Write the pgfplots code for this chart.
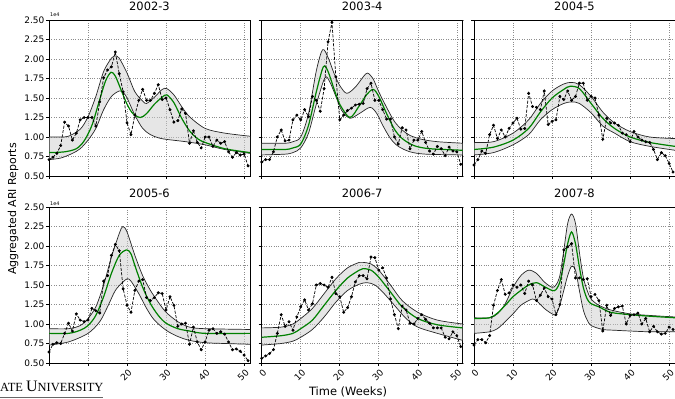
\documentclass[border=0pt]{standalone}
\usepackage{fontspec}
\setmainfont{DejaVu Sans}
\newfontfamily\logofont{Liberation Serif}
\usepackage{pgfplots}
\pgfplotsset{compat=1.18}
\usepgfplotslibrary{fillbetween}
\definecolor{mgreen}{RGB}{0,128,0}
\definecolor{bandfill}{RGB}{205,205,205}
\pgfplotsset{
  panel/.style={
    scale only axis, width=201bp, height=156bp, anchor=south west,
    xmin=0, xmax=51.5, ymin=0.5, ymax=2.5,
    xtick={0,10,20,30,40,50},
    ytick={0.5,0.75,1,1.25,1.5,1.75,2,2.25,2.5},
    yticklabels={}, xticklabels={},
    grid=major,
    grid style={dotted, line width=0.6bp, black!45},
    tick align=outside, xtick pos=bottom, ytick pos=left,
    major tick length=3bp,
    every tick/.style={black, line width=0.6bp},
    axis line style={black, line width=0.8bp},
    tick label style={font=\fontsize{9}{9}\selectfont},
    title style={font=\fontsize{11.5}{11.5}\selectfont, at={(0.5,1)}, anchor=base, yshift=3.5bp},
  },
  ylab/.style={yticklabels={0.50,0.75,1.00,1.25,1.50,1.75,2.00,2.25,2.50}, yticklabel style={inner sep=1.5bp}},
  xlab/.style={xticklabel style={rotate=45, anchor=north east, inner sep=1bp, yshift=-1bp}},
  bound/.style={black!85, line width=0.7bp, smooth, tension=0.5, mark=none},
  band/.style={bandfill, opacity=0.5},
  fit/.style={mgreen, line width=1.2bp, smooth, tension=0.5, mark=none},
  obs/.style={black, line width=0.7bp, dash pattern=on 3bp off 1.5bp, mark=*, mark size=1.1bp, mark options={solid}},
}
\begin{document}
\begin{tikzpicture}

% ---------------- 2002-3
\begin{axis}[panel, ylab, at={(49bp,223bp)}, title={2002-3}]
\addplot[bound, name path=u1] coordinates {(0,1.00)(3,1.00)(5,1.01)(8,1.10)(10,1.26)(12,1.52)(14,1.84)(16,2.01)(17,2.04)(18,2.01)(20,1.82)(22,1.58)(24,1.46)(25,1.43)(27,1.51)(29,1.61)(30.2,1.62)(32,1.54)(34,1.39)(36,1.26)(40,1.11)(45,1.05)(51.5,1.01)};
\addplot[bound, name path=l1] coordinates {(0,0.71)(3,0.73)(6,0.79)(8,0.85)(10,0.96)(12,1.11)(14,1.35)(16,1.52)(18,1.59)(19,1.57)(20,1.50)(22,1.28)(24,1.11)(26,1.03)(28,0.99)(30,0.97)(35,0.94)(40,0.90)(45,0.84)(51.5,0.79)};
\addplot[band] fill between[of=u1 and l1];
\addplot[fit] coordinates {(0,0.80)(4,0.81)(7,0.85)(9,0.95)(11,1.15)(13,1.48)(14.5,1.72)(15.9,1.83)(17,1.78)(18.5,1.60)(20,1.42)(21.5,1.30)(23.4,1.25)(25,1.30)(27,1.42)(29,1.51)(30.2,1.54)(32,1.44)(34,1.24)(36,1.08)(38,0.98)(40,0.93)(45,0.85)(51.5,0.80)};
\addplot[obs] coordinates {(0,0.71)(1,0.74)(2,0.79)(3,0.89)(4,1.19)(5,1.14)(6,0.96)(7,1.05)(8,1.22)(9,1.25)(10,1.25)(11,1.25)(12,1.14)(13,1.45)(14,1.76)(15,1.86)(16,1.90)(17,2.09)(18,1.81)(19,1.58)(20,1.18)(21,1.03)(22,1.28)(23,1.47)(24,1.61)(25,1.47)(26,1.47)(27,1.56)(28,1.67)(29,1.48)(30,1.50)(31,1.35)(32,1.19)(33,1.21)(34,1.36)(35,1.30)(36,0.92)(37,1.08)(38,0.93)(39,0.86)(40,1.00)(41,1.00)(42,0.88)(43,0.96)(44,0.92)(45,0.94)(46,0.81)(47,0.74)(48,0.80)(49,0.77)(50,0.78)(51,0.63)};
\end{axis}

% ---------------- 2003-4
\begin{axis}[panel, at={(261.7bp,223bp)}, title={2003-4}]
\addplot[bound, name path=u2] coordinates {(0,0.92)(6,0.92)(8,0.94)(10,1.00)(12,1.30)(14,1.85)(15.6,2.12)(17,2.02)(18.5,1.82)(20,1.66)(21.8,1.56)(24,1.64)(26,1.77)(27.1,1.82)(28.5,1.75)(30,1.58)(32,1.38)(34,1.20)(36,1.09)(38,1.02)(41,0.97)(45,0.94)(51.5,0.92)};
\addplot[bound, name path=l2] coordinates {(0,0.77)(6,0.78)(8,0.80)(10,0.86)(12,1.05)(14,1.42)(16.2,1.76)(17.5,1.70)(19,1.52)(20.5,1.34)(22.6,1.24)(25,1.30)(27.8,1.38)(29.5,1.30)(31,1.15)(33,0.98)(35,0.88)(38,0.81)(42,0.78)(51.5,0.77)};
\addplot[band] fill between[of=u2 and l2];
\addplot[fit] coordinates {(0,0.84)(6,0.84)(8,0.86)(10,0.91)(12,1.15)(14,1.58)(15.8,1.90)(17,1.84)(18.5,1.62)(20,1.42)(22.6,1.25)(25,1.40)(27,1.55)(28.6,1.61)(30,1.52)(32,1.30)(34,1.10)(36,0.98)(39,0.89)(43,0.85)(51.5,0.83)};
\addplot[obs] coordinates {(0,0.68)(1,0.71)(2,0.71)(3,0.81)(4,1.00)(5,1.09)(6,0.95)(7,0.96)(8,1.22)(9,1.28)(10,1.22)(11,1.35)(12,1.26)(13,1.52)(14,1.47)(15,1.33)(16,1.62)(17,2.22)(18,2.47)(19,1.77)(20,1.22)(21,1.28)(22,1.34)(23,1.37)(24,1.41)(25,1.42)(26,1.43)(27,1.62)(28,1.69)(29,1.47)(30,1.47)(31,1.35)(32,1.23)(33,1.23)(34,1.00)(35,0.91)(36,1.12)(37,1.09)(38,0.85)(39,0.96)(40,0.96)(41,1.07)(42,0.93)(43,0.82)(44,0.78)(45,0.88)(46,0.85)(47,0.76)(48,0.87)(49,0.82)(50,0.81)(51,0.65)};
\end{axis}

% ---------------- 2004-5
\begin{axis}[panel, at={(474bp,223bp)}, title={2004-5}]
\addplot[bound, name path=u3] coordinates {(0,0.93)(5,0.94)(10,1.05)(14,1.22)(17,1.43)(20,1.59)(23,1.68)(25,1.70)(27,1.67)(30,1.52)(33,1.32)(36,1.18)(40,1.07)(45,1.00)(51.5,0.98)};
\addplot[bound, name path=l3] coordinates {(0,0.77)(5,0.80)(10,0.90)(14,1.03)(17,1.22)(20,1.35)(23,1.43)(25,1.45)(27,1.43)(30,1.31)(33,1.14)(36,1.05)(40,0.94)(45,0.88)(51.5,0.83)};
\addplot[band] fill between[of=u3 and l3];
\addplot[fit] coordinates {(0,0.84)(5,0.87)(10,0.96)(14,1.11)(17,1.32)(20,1.50)(23,1.61)(24.6,1.65)(27,1.62)(30,1.43)(33,1.24)(36,1.11)(40,1.00)(45,0.93)(51.5,0.88)};
\addplot[obs] coordinates {(0,0.64)(1,0.71)(2,0.82)(3,0.79)(4,1.03)(5,1.15)(6,0.98)(7,1.09)(8,1.00)(9,1.11)(10,1.18)(11,1.24)(12,1.10)(13,1.11)(14,1.56)(15,1.39)(16,1.38)(17,1.35)(18,1.59)(19,1.16)(20,1.20)(21,1.22)(22,1.52)(23,1.48)(24,1.59)(25,1.47)(26,1.52)(27,1.69)(28,1.69)(29,1.47)(30,1.52)(31,1.50)(32,1.28)(33,0.97)(34,1.24)(35,1.18)(36,1.18)(37,1.15)(38,1.05)(39,1.03)(40,0.94)(41,1.07)(42,1.00)(43,0.96)(44,0.94)(45,0.93)(46,0.84)(47,0.71)(48,0.80)(49,0.76)(50,0.66)(51,0.55)};
\end{axis}

% ---------------- 2005-6
\begin{axis}[panel, ylab, xlab, xticklabels={,,20,30,40,50}, at={(49bp,36bp)}, title={2005-6}]
\addplot[bound, name path=u4] coordinates {(0,0.94)(5,0.94)(8,0.98)(10,1.07)(12,1.22)(14,1.50)(16,1.86)(18,2.16)(18.9,2.25)(20,2.18)(22,1.88)(24,1.62)(26,1.43)(28,1.28)(30,1.15)(33,1.03)(36,0.96)(40,0.94)(51.5,0.93)};
\addplot[bound, name path=l4] coordinates {(0,0.73)(5,0.77)(10,0.88)(13,1.03)(15,1.22)(17,1.43)(19,1.54)(20.1,1.58)(21,1.55)(23,1.39)(25,1.20)(27,1.05)(30,0.92)(33,0.84)(36,0.79)(40,0.76)(45,0.75)(51.5,0.74)};
\addplot[band] fill between[of=u4 and l4];
\addplot[fit] coordinates {(0,0.88)(5,0.88)(8,0.92)(10,0.98)(12,1.11)(14,1.35)(16,1.65)(18,1.88)(19.9,1.95)(21,1.90)(22,1.75)(24,1.47)(26,1.26)(28,1.11)(30,1.01)(33,0.94)(36,0.91)(40,0.88)(51.5,0.88)};
\addplot[obs] coordinates {(0,0.64)(1,0.74)(2,0.76)(3,0.75)(4,0.88)(5,1.01)(6,0.91)(7,1.13)(8,1.05)(9,1.03)(10,1.05)(11,1.20)(12,1.17)(13,1.14)(14,1.55)(15,1.62)(16,1.88)(17,2.02)(18,1.94)(19,1.45)(20,1.24)(21,1.15)(22,1.43)(23,1.55)(24,1.57)(25,1.34)(26,1.30)(27,1.34)(28,1.40)(29,1.39)(30,1.18)(31,1.35)(32,1.24)(33,0.97)(34,1.00)(35,1.01)(36,0.74)(37,0.96)(38,0.77)(39,0.67)(40,0.77)(41,0.92)(42,0.94)(43,0.88)(44,0.90)(45,0.87)(46,0.77)(47,0.67)(48,0.68)(49,0.65)(50,0.60)(51,0.53)};
\end{axis}

% ---------------- 2006-7
\begin{axis}[panel, xlab, xticklabels={0,10,20,30,40,50}, at={(261.7bp,36bp)}, title={2006-7}]
\addplot[bound, name path=u5] coordinates {(0,0.95)(5,0.96)(8,1.00)(10,1.07)(13,1.20)(16,1.39)(19,1.58)(22,1.72)(25,1.79)(26,1.79)(28,1.77)(30,1.69)(33,1.50)(36,1.30)(40,1.15)(45,1.05)(51.5,1.00)};
\addplot[bound, name path=l5] coordinates {(0,0.73)(5,0.75)(8,0.78)(10,0.83)(13,0.93)(16,1.09)(19,1.28)(22,1.43)(25,1.51)(27,1.53)(29,1.50)(31,1.41)(34,1.24)(37,1.07)(40,0.96)(45,0.88)(51.5,0.79)};
\addplot[band] fill between[of=u5 and l5];
\addplot[fit] coordinates {(0,0.83)(5,0.85)(8,0.88)(10,0.94)(13,1.05)(16,1.24)(19,1.43)(22,1.59)(25,1.69)(26,1.71)(28,1.69)(30,1.60)(33,1.41)(36,1.22)(40,1.07)(45,0.99)(51.5,0.95)};
\addplot[obs] coordinates {(0,0.56)(1,0.59)(2,0.62)(3,0.67)(4,0.88)(5,1.12)(6,0.97)(7,1.03)(8,0.92)(9,1.09)(10,1.22)(11,1.31)(12,1.18)(13,1.26)(14,1.50)(15,1.52)(16,1.50)(17,1.47)(18,1.60)(19,1.39)(20,1.35)(21,1.15)(22,1.21)(23,1.35)(24,1.54)(25,1.62)(26,1.62)(27,1.58)(28,1.86)(29,1.85)(30,1.69)(31,1.72)(32,1.59)(33,1.32)(34,1.12)(35,0.94)(36,1.23)(37,1.18)(38,1.01)(39,1.00)(40,1.07)(41,1.12)(42,1.06)(43,1.01)(44,0.95)(45,0.95)(46,0.95)(47,0.83)(48,0.81)(49,0.90)(50,0.85)(51,0.71)};
\end{axis}

% ---------------- 2007-8
\begin{axis}[panel, xlab, xticklabels={0,10,20,30,40,50}, at={(474bp,36bp)}, title={2007-8}]
\addplot[bound, name path=u6] coordinates {(0,1.08)(4,1.08)(6,1.13)(8,1.26)(10,1.47)(12,1.62)(14,1.69)(16,1.65)(18,1.54)(20,1.47)(21,1.50)(22,1.62)(23,1.94)(24,2.29)(25,2.41)(26,2.29)(27,1.92)(28,1.60)(29,1.43)(30,1.32)(32,1.24)(35,1.18)(40,1.13)(45,1.11)(51.5,1.09)};
\addplot[bound, name path=l6] coordinates {(0,0.88)(4,0.90)(6,0.94)(8,1.03)(10,1.13)(12,1.24)(14,1.30)(15,1.32)(16,1.30)(18,1.20)(20,1.13)(21,1.12)(22,1.24)(23,1.43)(24,1.62)(25,1.74)(26,1.69)(27,1.43)(28,1.18)(29,1.05)(30,0.98)(33,0.93)(36,0.92)(40,0.91)(45,0.90)(51.5,0.90)};
\addplot[band] fill between[of=u6 and l6];
\addplot[fit] coordinates {(0,1.07)(4,1.08)(6,1.14)(8,1.24)(10,1.35)(12,1.43)(14,1.50)(16,1.53)(18,1.48)(20,1.43)(21,1.44)(22,1.54)(23,1.77)(24,2.03)(25,2.18)(26,2.03)(27,1.73)(28,1.47)(29,1.32)(30,1.26)(32,1.22)(35,1.15)(40,1.12)(45,1.10)(51.5,1.08)};
\addplot[obs] coordinates {(0,0.73)(1,0.80)(2,0.80)(3,0.76)(4,0.85)(5,1.24)(6,1.43)(7,1.57)(8,1.38)(9,1.40)(10,1.50)(11,1.47)(12,1.50)(13,1.39)(14,1.55)(15,1.50)(16,1.30)(17,1.37)(18,1.46)(19,1.35)(20,1.32)(21,1.12)(22,1.25)(23,1.95)(24,1.99)(25,2.03)(26,1.59)(27,1.59)(28,1.57)(29,1.58)(30,1.35)(31,1.38)(32,1.30)(33,0.91)(34,1.24)(35,1.11)(36,1.20)(37,1.22)(38,1.23)(39,1.00)(40,1.11)(41,1.12)(42,1.14)(43,1.00)(44,1.07)(45,0.90)(46,0.97)(47,0.90)(48,0.87)(49,0.88)(50,0.96)(51,0.93)};
\end{axis}

% decorations
\node[anchor=south west, inner sep=0pt, font=\fontsize{5}{5}\selectfont] at (50bp,382bp) {1e4};
\node[anchor=south west, inner sep=0pt, font=\fontsize{5}{5}\selectfont] at (50bp,193bp) {1e4};
\node[rotate=90, font=\fontsize{11}{11}\selectfont] at (13bp,190bp) {Aggregated ARI Reports};
\node[font=\fontsize{11.5}{11.5}\selectfont] at (348bp,7bp) {Time (Weeks)};
\node[anchor=base west, inner sep=0pt] at (0bp,8bp) {\logofont\fontsize{12.5}{12.5}\selectfont ATE {\fontsize{16}{16}\selectfont U}NIVERSITY};
\draw[black!60, line width=1bp] (0bp,1.5bp) -- (103bp,1.5bp);
\pgfresetboundingbox
\path[use as bounding box] (0,0) rectangle (675bp,399bp);
\end{tikzpicture}
\end{document}
